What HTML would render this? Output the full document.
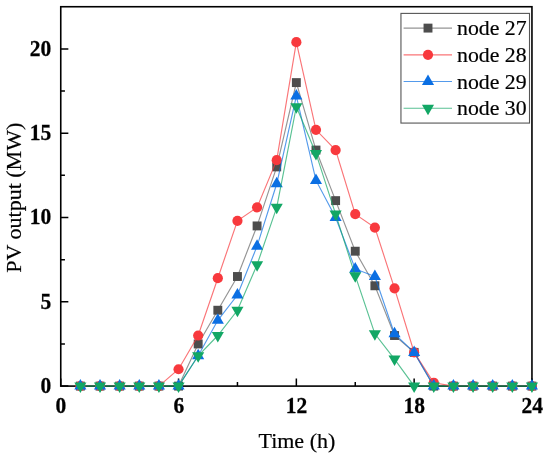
<!DOCTYPE html>
<html><head><meta charset="utf-8"><title>PV output</title>
<style>html,body{margin:0;padding:0;background:#fff;}body{width:550px;height:459px;position:relative;overflow:hidden;font-family:"Liberation Serif",serif;}</style></head>
<body>
<svg width="550" height="459" viewBox="0 0 550 459" style="position:absolute;left:0;top:0;will-change:transform">
<rect width="550" height="459" fill="#fff"/>
<rect x="60.75" y="6.73" width="471.20000000000005" height="379.37" fill="none" stroke="#000" stroke-width="1.6"/>
<path d="M60.75 386.10h7.6 M60.75 301.80h7.6 M60.75 217.49h7.6 M60.75 133.19h7.6 M60.75 48.88h7.6 M60.75 343.95h4.2 M60.75 259.64h4.2 M60.75 175.34h4.2 M60.75 91.03h4.2 M60.75 386.1v-7.6 M178.55 386.1v-7.6 M296.35 386.1v-7.6 M414.15 386.1v-7.6 M531.95 386.1v-7.6 M119.65 386.1v-4.2 M237.45 386.1v-4.2 M355.25 386.1v-4.2 M473.05 386.1v-4.2" stroke="#000" stroke-width="1.5" fill="none"/>
<polyline points="178.55,386.10 198.18,343.95 217.82,310.23 237.45,276.50 257.08,225.92 276.72,166.91 296.35,82.60 315.98,150.05 335.62,200.63 355.25,251.21 374.88,285.78 394.52,335.52 414.15,352.38 433.78,386.10" fill="none" stroke="#666666" stroke-width="1.15" stroke-opacity="0.7"/><rect x="75.93" y="381.65" width="8.90" height="8.90" fill="#4d4d4d"/><rect x="95.57" y="381.65" width="8.90" height="8.90" fill="#4d4d4d"/><rect x="115.20" y="381.65" width="8.90" height="8.90" fill="#4d4d4d"/><rect x="134.83" y="381.65" width="8.90" height="8.90" fill="#4d4d4d"/><rect x="154.47" y="381.65" width="8.90" height="8.90" fill="#4d4d4d"/><rect x="174.10" y="381.65" width="8.90" height="8.90" fill="#4d4d4d"/><rect x="193.73" y="339.50" width="8.90" height="8.90" fill="#4d4d4d"/><rect x="213.37" y="305.78" width="8.90" height="8.90" fill="#4d4d4d"/><rect x="233.00" y="272.05" width="8.90" height="8.90" fill="#4d4d4d"/><rect x="252.63" y="221.47" width="8.90" height="8.90" fill="#4d4d4d"/><rect x="272.27" y="162.46" width="8.90" height="8.90" fill="#4d4d4d"/><rect x="291.90" y="78.15" width="8.90" height="8.90" fill="#4d4d4d"/><rect x="311.53" y="145.60" width="8.90" height="8.90" fill="#4d4d4d"/><rect x="331.17" y="196.18" width="8.90" height="8.90" fill="#4d4d4d"/><rect x="350.80" y="246.76" width="8.90" height="8.90" fill="#4d4d4d"/><rect x="370.43" y="281.33" width="8.90" height="8.90" fill="#4d4d4d"/><rect x="390.07" y="331.07" width="8.90" height="8.90" fill="#4d4d4d"/><rect x="409.70" y="347.93" width="8.90" height="8.90" fill="#4d4d4d"/><rect x="429.33" y="381.65" width="8.90" height="8.90" fill="#4d4d4d"/><rect x="448.97" y="381.65" width="8.90" height="8.90" fill="#4d4d4d"/><rect x="468.60" y="381.65" width="8.90" height="8.90" fill="#4d4d4d"/><rect x="488.23" y="381.65" width="8.90" height="8.90" fill="#4d4d4d"/><rect x="507.87" y="381.65" width="8.90" height="8.90" fill="#4d4d4d"/><rect x="527.50" y="381.65" width="8.90" height="8.90" fill="#4d4d4d"/>
<polyline points="158.92,386.10 178.55,369.24 198.18,335.52 217.82,278.19 237.45,220.86 257.08,207.37 276.72,160.16 296.35,42.14 315.98,129.81 335.62,150.05 355.25,214.12 374.88,227.61 394.52,288.31 414.15,352.38 433.78,382.73 453.42,386.10" fill="none" stroke="#f8393d" stroke-width="1.15" stroke-opacity="0.7"/><circle cx="80.38" cy="386.10" r="5.10" fill="#f8393d"/><circle cx="100.02" cy="386.10" r="5.10" fill="#f8393d"/><circle cx="119.65" cy="386.10" r="5.10" fill="#f8393d"/><circle cx="139.28" cy="386.10" r="5.10" fill="#f8393d"/><circle cx="158.92" cy="386.10" r="5.10" fill="#f8393d"/><circle cx="178.55" cy="369.24" r="5.10" fill="#f8393d"/><circle cx="198.18" cy="335.52" r="5.10" fill="#f8393d"/><circle cx="217.82" cy="278.19" r="5.10" fill="#f8393d"/><circle cx="237.45" cy="220.86" r="5.10" fill="#f8393d"/><circle cx="257.08" cy="207.37" r="5.10" fill="#f8393d"/><circle cx="276.72" cy="160.16" r="5.10" fill="#f8393d"/><circle cx="296.35" cy="42.14" r="5.10" fill="#f8393d"/><circle cx="315.98" cy="129.81" r="5.10" fill="#f8393d"/><circle cx="335.62" cy="150.05" r="5.10" fill="#f8393d"/><circle cx="355.25" cy="214.12" r="5.10" fill="#f8393d"/><circle cx="374.88" cy="227.61" r="5.10" fill="#f8393d"/><circle cx="394.52" cy="288.31" r="5.10" fill="#f8393d"/><circle cx="414.15" cy="352.38" r="5.10" fill="#f8393d"/><circle cx="433.78" cy="382.73" r="5.10" fill="#f8393d"/><circle cx="453.42" cy="386.10" r="5.10" fill="#f8393d"/><circle cx="473.05" cy="386.10" r="5.10" fill="#f8393d"/><circle cx="492.68" cy="386.10" r="5.10" fill="#f8393d"/><circle cx="512.32" cy="386.10" r="5.10" fill="#f8393d"/><circle cx="531.95" cy="386.10" r="5.10" fill="#f8393d"/>
<polyline points="178.55,386.10 198.18,355.75 217.82,320.34 237.45,295.05 257.08,246.15 276.72,183.77 296.35,96.09 315.98,180.40 335.62,217.49 355.25,268.92 374.88,276.50 394.52,333.83 414.15,352.38 433.78,386.10" fill="none" stroke="#0b6fe3" stroke-width="1.15" stroke-opacity="0.7"/><polygon points="80.38,379.10 74.33,389.60 86.43,389.60" fill="#0b6fe3"/><polygon points="100.02,379.10 93.97,389.60 106.07,389.60" fill="#0b6fe3"/><polygon points="119.65,379.10 113.60,389.60 125.70,389.60" fill="#0b6fe3"/><polygon points="139.28,379.10 133.23,389.60 145.33,389.60" fill="#0b6fe3"/><polygon points="158.92,379.10 152.87,389.60 164.97,389.60" fill="#0b6fe3"/><polygon points="178.55,379.10 172.50,389.60 184.60,389.60" fill="#0b6fe3"/><polygon points="198.18,348.75 192.13,359.25 204.23,359.25" fill="#0b6fe3"/><polygon points="217.82,313.34 211.77,323.84 223.87,323.84" fill="#0b6fe3"/><polygon points="237.45,288.05 231.40,298.55 243.50,298.55" fill="#0b6fe3"/><polygon points="257.08,239.15 251.03,249.65 263.13,249.65" fill="#0b6fe3"/><polygon points="276.72,176.77 270.67,187.27 282.77,187.27" fill="#0b6fe3"/><polygon points="296.35,89.09 290.30,99.59 302.40,99.59" fill="#0b6fe3"/><polygon points="315.98,173.40 309.93,183.90 322.03,183.90" fill="#0b6fe3"/><polygon points="335.62,210.49 329.57,220.99 341.67,220.99" fill="#0b6fe3"/><polygon points="355.25,261.92 349.20,272.42 361.30,272.42" fill="#0b6fe3"/><polygon points="374.88,269.50 368.83,280.00 380.93,280.00" fill="#0b6fe3"/><polygon points="394.52,326.83 388.47,337.33 400.57,337.33" fill="#0b6fe3"/><polygon points="414.15,345.38 408.10,355.88 420.20,355.88" fill="#0b6fe3"/><polygon points="433.78,379.10 427.73,389.60 439.83,389.60" fill="#0b6fe3"/><polygon points="453.42,379.10 447.37,389.60 459.47,389.60" fill="#0b6fe3"/><polygon points="473.05,379.10 467.00,389.60 479.10,389.60" fill="#0b6fe3"/><polygon points="492.68,379.10 486.63,389.60 498.73,389.60" fill="#0b6fe3"/><polygon points="512.32,379.10 506.27,389.60 518.37,389.60" fill="#0b6fe3"/><polygon points="531.95,379.10 525.90,389.60 538.00,389.60" fill="#0b6fe3"/>
<polyline points="80.38,386.10 100.02,386.10 119.65,386.10 139.28,386.10 158.92,386.10 178.55,386.10 198.18,355.75 217.82,335.52 237.45,310.23 257.08,264.70 276.72,207.37 296.35,106.72 315.98,153.42 335.62,214.12 355.25,275.66 374.88,333.83 394.52,359.12 414.15,386.10 433.78,386.10 453.42,386.10 473.05,386.10 492.68,386.10 512.32,386.10 531.95,386.10" fill="none" stroke="#12a765" stroke-width="1.15" stroke-opacity="0.7"/><polygon points="80.38,393.10 74.33,382.60 86.43,382.60" fill="#12a765"/><polygon points="100.02,393.10 93.97,382.60 106.07,382.60" fill="#12a765"/><polygon points="119.65,393.10 113.60,382.60 125.70,382.60" fill="#12a765"/><polygon points="139.28,393.10 133.23,382.60 145.33,382.60" fill="#12a765"/><polygon points="158.92,393.10 152.87,382.60 164.97,382.60" fill="#12a765"/><polygon points="178.55,393.10 172.50,382.60 184.60,382.60" fill="#12a765"/><polygon points="198.18,362.75 192.13,352.25 204.23,352.25" fill="#12a765"/><polygon points="217.82,342.52 211.77,332.02 223.87,332.02" fill="#12a765"/><polygon points="237.45,317.23 231.40,306.73 243.50,306.73" fill="#12a765"/><polygon points="257.08,271.70 251.03,261.20 263.13,261.20" fill="#12a765"/><polygon points="276.72,214.37 270.67,203.87 282.77,203.87" fill="#12a765"/><polygon points="296.35,113.72 290.30,103.22 302.40,103.22" fill="#12a765"/><polygon points="315.98,160.42 309.93,149.92 322.03,149.92" fill="#12a765"/><polygon points="335.62,221.12 329.57,210.62 341.67,210.62" fill="#12a765"/><polygon points="355.25,282.66 349.20,272.16 361.30,272.16" fill="#12a765"/><polygon points="374.88,340.83 368.83,330.33 380.93,330.33" fill="#12a765"/><polygon points="394.52,366.12 388.47,355.62 400.57,355.62" fill="#12a765"/><polygon points="414.15,393.10 408.10,382.60 420.20,382.60" fill="#12a765"/><polygon points="433.78,393.10 427.73,382.60 439.83,382.60" fill="#12a765"/><polygon points="453.42,393.10 447.37,382.60 459.47,382.60" fill="#12a765"/><polygon points="473.05,393.10 467.00,382.60 479.10,382.60" fill="#12a765"/><polygon points="492.68,393.10 486.63,382.60 498.73,382.60" fill="#12a765"/><polygon points="512.32,393.10 506.27,382.60 518.37,382.60" fill="#12a765"/><polygon points="531.95,393.10 525.90,382.60 538.00,382.60" fill="#12a765"/>
<rect x="400.95" y="13.4" width="128.55" height="109.67" fill="#fff" stroke="#555" stroke-width="1.1"/>
<path d="M403.6 28.1H452" stroke="#666666" stroke-width="1.15" stroke-opacity="0.7"/>
<rect x="423.55" y="23.65" width="8.90" height="8.90" fill="#4d4d4d"/>
<path d="M403.6 54.8H452" stroke="#f8393d" stroke-width="1.15" stroke-opacity="0.7"/>
<circle cx="428.00" cy="54.80" r="5.10" fill="#f8393d"/>
<path d="M403.6 81.5H452" stroke="#0b6fe3" stroke-width="1.15" stroke-opacity="0.7"/>
<polygon points="428.00,74.50 421.95,85.00 434.05,85.00" fill="#0b6fe3"/>
<path d="M403.6 108.2H452" stroke="#12a765" stroke-width="1.15" stroke-opacity="0.7"/>
<polygon points="428.00,115.20 421.95,104.70 434.05,104.70" fill="#12a765"/>
<g font-family="Liberation Serif, serif" font-size="21.8" fill="#000" stroke="#000" stroke-width="0.2">
<text x="457.0" y="35.40">node 27</text>
<text x="457.0" y="61.90">node 28</text>
<text x="457.0" y="88.50">node 29</text>
<text x="457.0" y="115.20">node 30</text>
</g>
<g font-family="Liberation Serif, serif" font-size="21.5" font-weight="bold" fill="#000" stroke="#000" stroke-width="0.25">
<text transform="translate(51.2 392.80) scale(1 1.03)" text-anchor="end">0</text>
<text transform="translate(51.2 308.50) scale(1 1.03)" text-anchor="end">5</text>
<text transform="translate(51.2 224.19) scale(1 1.03)" text-anchor="end">10</text>
<text transform="translate(51.2 139.89) scale(1 1.03)" text-anchor="end">15</text>
<text transform="translate(51.2 55.58) scale(1 1.03)" text-anchor="end">20</text>
<text transform="translate(60.95 412.7) scale(1 1.05)" text-anchor="middle">0</text>
<text transform="translate(178.75 412.7) scale(1 1.05)" text-anchor="middle">6</text>
<text transform="translate(296.55 412.7) scale(1 1.05)" text-anchor="middle">12</text>
<text transform="translate(414.35 412.7) scale(1 1.05)" text-anchor="middle">18</text>
<text transform="translate(532.15 412.7) scale(1 1.05)" text-anchor="middle">24</text>
</g>
<g font-family="Liberation Serif, serif" font-size="22" fill="#000" stroke="#000" stroke-width="0.2">
<text x="296.9" y="447.6" text-anchor="middle">Time (h)</text>
<text transform="translate(21.3 197.7) rotate(-90)" text-anchor="middle">PV output (MW)</text>
</g>
</svg>
</body></html>
